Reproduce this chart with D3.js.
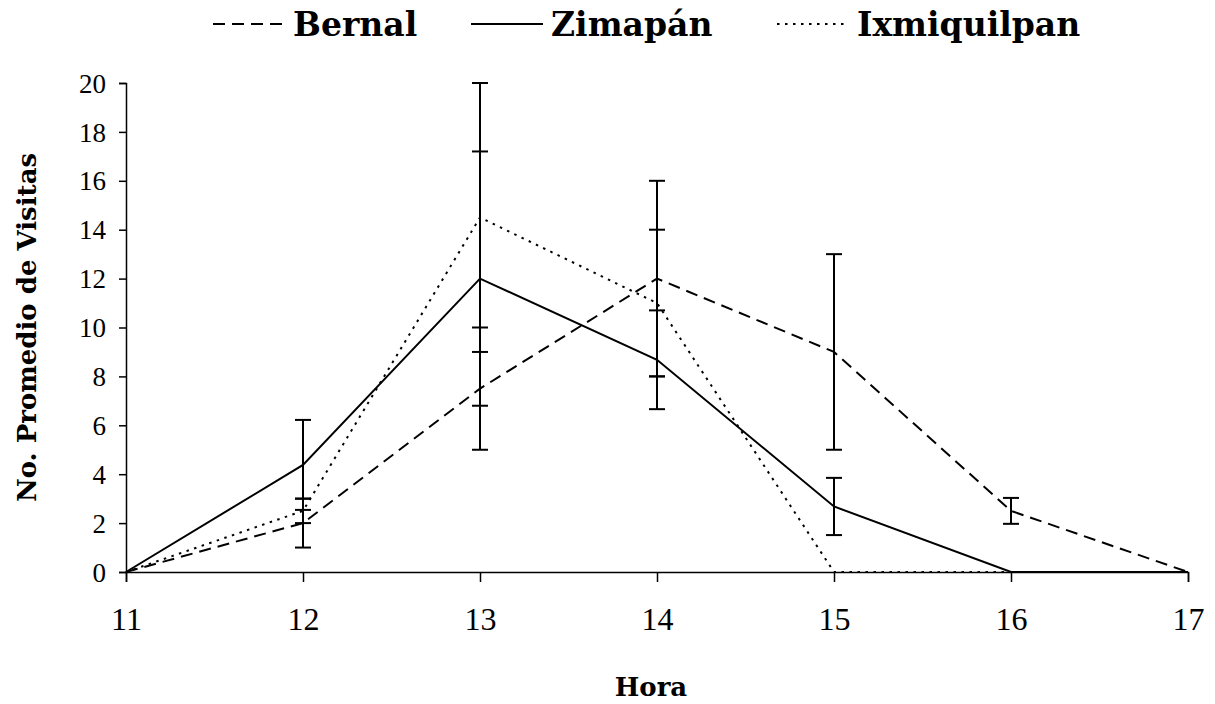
<!DOCTYPE html>
<html>
<head>
<meta charset="utf-8">
<script src="https://cdn.jsdelivr.net/npm/d3@7"></script>
<style>
  body { margin: 0; background: #fff; }
  svg text { font-family: "DejaVu Serif", serif; fill: #000; }
  svg .tick text { font-family: "Liberation Serif", serif; }
</style>
</head>
<body>
<div id="chart"></div>
<script>
// data
const horas = [11, 12, 13, 14, 15, 16, 17];
const bernal      = [0, 2.0, 7.5, 12.0, 9.0, 2.5, 0];
const bernalErr   = [0, 1.0, 2.5, 4.0, 4.0, 0.53, 0];
const zimapan     = [0, 4.38, 12.0, 8.68, 2.68, 0, 0];
const zimapanErr  = [0, 1.84, 5.2, 2.02, 1.17, 0, 0];
const ixmiq       = [0, 2.5, 14.5, 11.0, 0, 0, 0];
const ixmiqErr    = [0, 0.5, 5.5, 3.0, 0, 0, 0];
const seriesNames = ["Bernal", "Zimapán", "Ixmiquilpan"];
const yTicks = [0, 2, 4, 6, 8, 10, 12, 14, 16, 18, 20];

// constants for plot design
const FRAME_WIDTH = 1215;
const FRAME_HEIGHT = 704;
const MARGINS = {left: 126, right: 27, top: 83, bottom: 132};
const VIS_WIDTH = FRAME_WIDTH - MARGINS.left - MARGINS.right;
const VIS_HEIGHT = FRAME_HEIGHT - MARGINS.top - MARGINS.bottom;

const dashes = ["12,7", null, "2.5,5.5"];
const series = [
  {name: seriesNames[0], vals: bernal, err: bernalErr, dash: dashes[0]},
  {name: seriesNames[1], vals: zimapan, err: zimapanErr, dash: dashes[1]},
  {name: seriesNames[2], vals: ixmiq, err: ixmiqErr, dash: dashes[2]}
];

const xScale = d3.scaleLinear()
                 .domain([11, 17])
                 .range([0, VIS_WIDTH]);

const yScale = d3.scaleLinear()
                 .domain([0, 20])
                 .range([VIS_HEIGHT, 0]);

const svg = d3.select("#chart")
              .append("svg")
                .attr("width", FRAME_WIDTH)
                .attr("height", FRAME_HEIGHT);

const plot = svg.append("g")
                .attr("transform", "translate(" + MARGINS.left + "," + MARGINS.top + ")");

// y axis
const yAxis = plot.append("g")
    .call(d3.axisLeft(yScale).tickValues(yTicks).tickSize(7).tickPadding(13).tickFormat(d3.format("d")));
yAxis.selectAll("text")
     .style("font-size", "27px").attr("dy", "0.34em");

// x axis
const xAxis = plot.append("g")
    .attr("transform", "translate(0," + VIS_HEIGHT + ")")
    .call(d3.axisBottom(xScale).tickValues(horas).tickSize(10).tickPadding(25).tickFormat(d3.format("d")));
xAxis.selectAll("text")
     .style("font-size", "32px");

svg.selectAll(".domain, .tick line").attr("stroke", "#000").attr("stroke-width", 1.5);

// error bars
const CAP = 8;
series.forEach((s) => {
  const bars = horas.map((h, i) => ({h: h, v: s.vals[i], e: s.err[i]})).filter(d => d.e > 0);
  const g = plot.append("g").attr("stroke", "#000").attr("stroke-width", 2);
  g.selectAll(".eb").data(bars).enter().append("line")
    .attr("x1", d => xScale(d.h)).attr("x2", d => xScale(d.h))
    .attr("y1", d => yScale(d.v - d.e)).attr("y2", d => yScale(d.v + d.e));
  g.selectAll(".cap-top").data(bars).enter().append("line")
    .attr("x1", d => xScale(d.h) - CAP).attr("x2", d => xScale(d.h) + CAP)
    .attr("y1", d => yScale(d.v + d.e)).attr("y2", d => yScale(d.v + d.e));
  g.selectAll(".cap-bot").data(bars).enter().append("line")
    .attr("x1", d => xScale(d.h) - CAP).attr("x2", d => xScale(d.h) + CAP)
    .attr("y1", d => yScale(d.v - d.e)).attr("y2", d => yScale(d.v - d.e));
});

// series lines
const line = d3.line()
    .x((d, i) => xScale(horas[i]))
    .y((d) => yScale(d));

series.forEach((s) => {
  plot.append("path")
      .datum(s.vals)
      .attr("d", line)
      .attr("fill", "none")
      .attr("stroke", "#000")
      .attr("stroke-width", 2)
      .attr("stroke-dasharray", s.dash);
});

// legend
const legendX = [213, 471, 777];
const legend = svg.append("g").attr("transform", "translate(0,24)");
series.forEach((s, i) => {
  legend.append("line")
        .attr("x1", legendX[i]).attr("x2", legendX[i] + 72)
        .attr("y1", 0).attr("y2", 0)
        .attr("stroke", "#000").attr("stroke-width", 2)
        .attr("stroke-dasharray", s.dash);
  legend.append("text")
        .attr("x", legendX[i] + 80).attr("y", 12)
        .attr("font-size", "33px").attr("font-weight", "bold")
        .text(s.name);
});

// axis titles
svg.append("text")
   .attr("x", MARGINS.left + VIS_WIDTH / 2 - 6).attr("y", 696)
   .attr("text-anchor", "middle")
   .attr("font-size", "26px").attr("font-weight", "bold")
   .text("Hora");

svg.append("text")
   .attr("transform", "translate(36," + (MARGINS.top + VIS_HEIGHT / 2) + ") rotate(-90)")
   .attr("text-anchor", "middle")
   .attr("font-size", "26px").attr("font-weight", "bold")
   .text("No. Promedio de Visitas");
</script>
</body>
</html>
